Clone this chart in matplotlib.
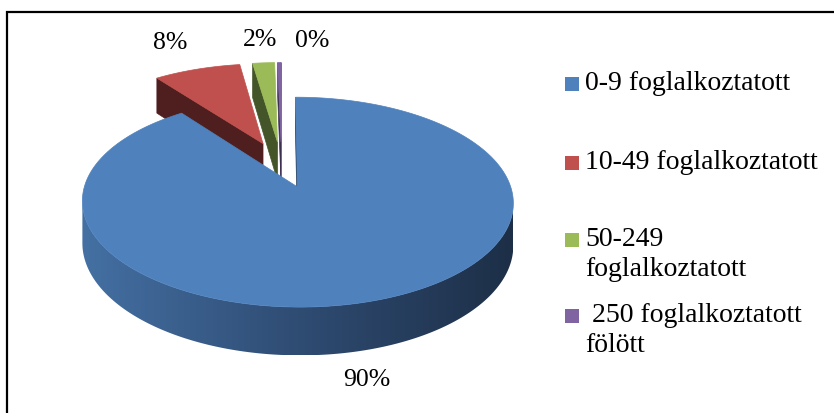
import numpy as np
import matplotlib.pyplot as plt
from matplotlib.patches import Polygon, Rectangle
from matplotlib.colors import LinearSegmentedColormap

# data
categories = ["0-9 foglalkoztatott", "10-49 foglalkoztatott",
              "50-249\nfoglalkoztatott", " 250 foglalkoztatott\nfölött"]
shares = [89.8, 7.9, 2.0, 0.3]

top_colors = ["#4F81BD", "#C0504D", "#9BBB59", "#8064A2"]
cut_colors = ["#2B4566", "#4E1F1E", "#45552A", "#3D2F52"]
side_light, side_mid, side_dark = "#4470A3", "#2F4C73", "#1D2F47"

# pseudo-3D geometry in pixel space
CX, CY = 281.4, 164.3
A, B = 206.4, 96.3
K = 0.14          # perspective
DEPTH = 40
EXPLODE = 0.24
CAM_V = -1.0 / K

label_offsets = [(-11, 32), (-27, -26), (-4, -23), (33, -22)]
legend_rows = [84, 163, 240, 316]
draw_order = [1, 2, 3, 0]

plt.rcParams["font.family"] = "serif"
plt.rcParams["font.serif"] = ["Liberation Serif", "DejaVu Serif"]


def project(u, v, z=0.0):
    f = 1.0 / (1.0 + K * v)
    return CX + A * u * f, CY - B * v * f + DEPTH * z * f


def visible(nu, nv, pu, pv):
    return nu * (-pu) + nv * (CAM_V - pv) > 0


fig = plt.figure(figsize=(8.34, 4.13), dpi=100)
ax = fig.add_axes([0, 0, 1, 1])
ax.set_xlim(0, 834)
ax.set_ylim(413, 0)
ax.axis("off")

fracs = np.array(shares) / sum(shares)
bounds = np.concatenate([[0], np.cumsum(fracs) * 360])

side_cmap = LinearSegmentedColormap.from_list(
    "side", [side_light, side_mid, side_dark])

for i in draw_order:
    t1, t2 = bounds[i], bounds[i + 1]
    tm = np.radians((t1 + t2) / 2)
    ou, ov = EXPLODE * np.sin(tm), EXPLODE * np.cos(tm)
    th = np.radians(np.linspace(t1, t2, max(3, int((t2 - t1) * 3))))
    us = ou + np.sin(th)
    vs = ov + np.cos(th)

    # radial cut faces
    for t, sign in ((th[0], -1), (th[-1], 1)):
        nu, nv = sign * np.cos(t), -sign * np.sin(t)
        pu, pv = ou + 0.5 * np.sin(t), ov + 0.5 * np.cos(t)
        if not visible(nu, nv, pu, pv):
            continue
        eu, ev = ou + np.sin(t), ov + np.cos(t)
        pts = [project(ou, ov, 0), project(eu, ev, 0),
               project(eu, ev, 1), project(ou, ov, 1)]
        ax.add_patch(Polygon(pts, closed=True, fc=cut_colors[i],
                             ec=cut_colors[i], lw=0.5))

    # outer side (front part only)
    mids = (th[:-1] + th[1:]) / 2
    vis = np.array([visible(np.sin(t), np.cos(t),
                            ou + np.sin(t), ov + np.cos(t)) for t in mids])
    if vis.any():
        idx = np.where(vis)[0]
        j0, j1 = idx[0], idx[-1] + 1
        upper = [project(us[j], vs[j], 0) for j in range(j0, j1 + 1)]
        lower = [project(us[j], vs[j], 1) for j in range(j1, j0 - 1, -1)]
        side = Polygon(upper + lower, closed=True, fc="none", ec="none")
        ax.add_patch(side)
        if i == 0:
            xs = [p[0] for p in upper]
            ys = [p[1] for p in upper + lower]
            grad = np.linspace(0, 1, 256).reshape(1, -1)
            img = ax.imshow(grad, cmap=side_cmap, aspect="auto",
                            extent=(min(xs), max(xs), max(ys), min(ys)),
                            interpolation="bilinear", zorder=1)
            img.set_clip_path(side)
        else:
            side.set_facecolor(cut_colors[i])
            side.set_edgecolor(cut_colors[i])

    # top face
    top = [project(ou, ov, 0)] + [project(u, v, 0) for u, v in zip(us, vs)]
    ax.add_patch(Polygon(top, closed=True, fc=top_colors[i],
                         ec=top_colors[i], lw=0.5, zorder=2))

    # percentage label
    lu, lv = ou + np.sin(tm), ov + np.cos(tm)
    lx, ly = project(lu, lv, 1 if i == 0 else 0)
    dx, dy = label_offsets[i]
    ax.text(lx + dx, ly + dy, f"{round(shares[i] / sum(shares) * 100):.0f}%",
            fontsize=18.5, ha="center", va="center", color="black")

# legend
for cat, col, yc in zip(categories, top_colors, legend_rows):
    ax.add_patch(Rectangle((565, yc - 7), 14, 14, fc=col, ec="none"))
    ax.text(585, yc - 13, cat, fontsize=20, ha="left", va="top",
            linespacing=1.25, color="black")

# chart frame
ax.plot([7, 7, 834], [413, 12, 12], color="black", lw=1.6,
        solid_capstyle="projecting", solid_joinstyle="miter")

fig.savefig("out.png", dpi=100)
